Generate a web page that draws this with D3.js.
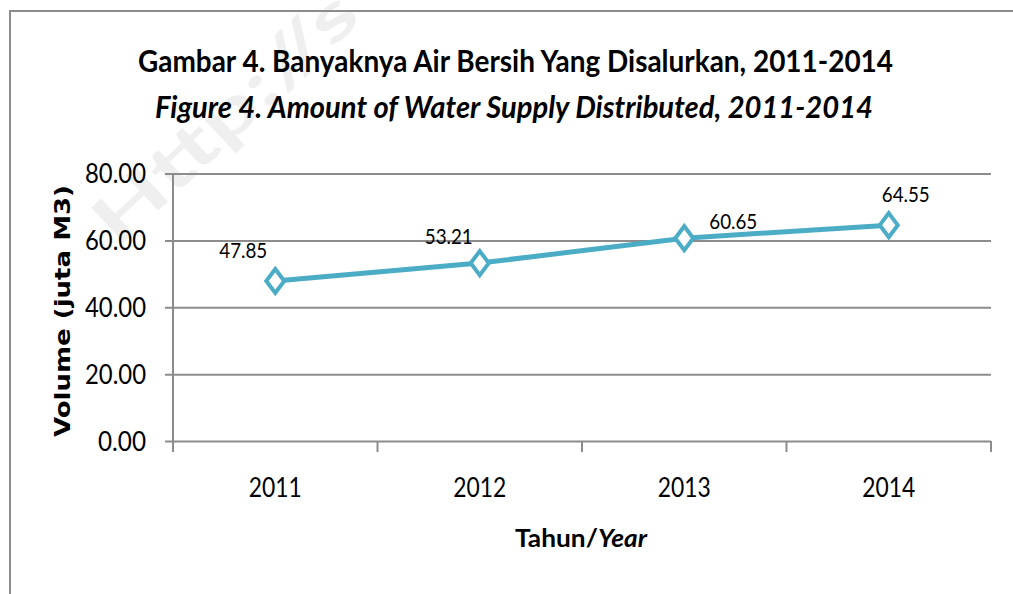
<!DOCTYPE html>
<html>
<head>
<meta charset="utf-8">
<script src="https://cdn.jsdelivr.net/npm/d3@7"></script>
<style>
  body { margin: 0; background: #fff; }
  text { font-family: Lato, "Open Sans", sans-serif; fill: #000; }
</style>
</head>
<body>
<div class="line-chart"></div>
<script>
// data
var years = ["2011", "2012", "2013", "2014"];
var volumes = [47.85, 53.21, 60.65, 64.55];
var yTicks = [0, 20, 40, 60, 80];

// label offsets relative to each point (layout, as placed in the source)
var labelOffsets = [[-32, -23], [-31, -19], [49, -9], [17, -23]];

var W = 1013, H = 594;
var plot = { left: 173, right: 991, top: 173.5, bottom: 441 };
var lineColor = "#4bacc6";

var svg = d3.select(".line-chart")
  .append("svg")
  .attr("width", W)
  .attr("height", H);

// faint watermark behind everything
svg.append("text")
  .attr("transform", "translate(118,248) rotate(-43)")
  .attr("font-size", 66)
  .attr("font-weight", "bold")
  .attr("textLength", 335)
  .attr("lengthAdjust", "spacingAndGlyphs")
  .style("fill", "#000")
  .style("opacity", 0.06)
  .text("Http://s");

// outer frame (top and left edges visible)
svg.append("path")
  .attr("d", "M10,594 L10,11 L1013,11")
  .attr("fill", "none")
  .attr("stroke", "#8c8c8c")
  .attr("stroke-width", 2);

var x = d3.scaleBand()
  .domain(years)
  .range([plot.left, plot.right]);

var y = d3.scaleLinear()
  .domain([0, 80])
  .range([plot.bottom, plot.top]);

// horizontal gridlines + y tick labels
var yAxis = svg.append("g")
  .attr("transform", "translate(" + plot.left + ",0)")
  .call(d3.axisLeft(y)
    .tickValues(yTicks)
    .tickSize(-(plot.right - plot.left))
    .tickPadding(27)
    .tickFormat(d3.format(".2f")));
yAxis.select(".domain").remove();
yAxis.selectAll(".tick line")
  .attr("x1", -8)
  .attr("stroke", "#8c8c8c")
  .attr("stroke-width", 2);
yAxis.selectAll(".tick text")
  .attr("font-size", 26)
  .attr("font-family", "Lato, sans-serif")
  .attr("textLength", function(d) { return d >= 10 ? 61 : 48; })
  .attr("lengthAdjust", "spacingAndGlyphs")
  .attr("dy", "0.36em");

// vertical axis line
svg.append("line")
  .attr("x1", plot.left).attr("x2", plot.left)
  .attr("y1", plot.top).attr("y2", plot.bottom + 11)
  .attr("stroke", "#8c8c8c")
  .attr("stroke-width", 2);

// category boundary ticks
var bounds = years.map(function(d) { return x(d); }).concat([plot.right]);
svg.selectAll(".xtick")
  .data(bounds)
  .enter().append("line")
    .attr("class", "xtick")
    .attr("x1", function(d) { return d; })
    .attr("x2", function(d) { return d; })
    .attr("y1", plot.bottom)
    .attr("y2", plot.bottom + 11)
    .attr("stroke", "#8c8c8c")
    .attr("stroke-width", 2);

// x tick labels
svg.selectAll(".xlabel")
  .data(years)
  .enter().append("text")
    .attr("class", "xlabel")
    .attr("x", function(d) { return x(d) + x.bandwidth() / 2; })
    .attr("y", 497)
    .attr("text-anchor", "middle")
    .attr("font-size", 26)
    .attr("textLength", 53)
    .attr("lengthAdjust", "spacingAndGlyphs")
    .text(function(d) { return d; });

// line
var line = d3.line()
  .x(function(d, i) { return x(years[i]) + x.bandwidth() / 2; })
  .y(function(d) { return y(d); });

svg.append("path")
  .datum(volumes)
  .attr("d", line)
  .attr("fill", "none")
  .attr("stroke", lineColor)
  .attr("stroke-width", 5)
  .attr("stroke-linejoin", "round");

// diamond markers
svg.selectAll(".marker")
  .data(volumes)
  .enter().append("path")
    .attr("class", "marker")
    .attr("transform", function(d, i) {
      return "translate(" + (x(years[i]) + x.bandwidth() / 2) + "," + y(d) + ")";
    })
    .attr("d", "M0,-12 L9,0 L0,12 L-9,0 Z")
    .attr("fill", "#fff")
    .attr("stroke", lineColor)
    .attr("stroke-width", 4)
    .attr("stroke-linejoin", "miter");

// data labels
var fmt = d3.format(".2f");
svg.selectAll(".dlabel")
  .data(volumes)
  .enter().append("text")
    .attr("class", "dlabel")
    .attr("x", function(d, i) { return x(years[i]) + x.bandwidth() / 2 + labelOffsets[i][0]; })
    .attr("y", function(d, i) { return y(d) + labelOffsets[i][1]; })
    .attr("text-anchor", "middle")
    .attr("font-size", 21)
    .attr("textLength", 48)
    .attr("lengthAdjust", "spacingAndGlyphs")
    .text(function(d) { return fmt(d); });

// titles
svg.append("text")
  .attr("x", 515.5).attr("y", 72)
  .attr("text-anchor", "middle")
  .attr("font-size", 31)
  .attr("font-weight", "bold")
  .attr("textLength", 755)
  .attr("lengthAdjust", "spacingAndGlyphs")
  .text("Gambar 4. Banyaknya Air Bersih Yang Disalurkan, 2011-2014");

svg.append("text")
  .attr("x", 514).attr("y", 118)
  .attr("text-anchor", "middle")
  .attr("font-size", 31)
  .attr("font-weight", "bold")
  .attr("font-style", "italic")
  .attr("textLength", 718)
  .attr("lengthAdjust", "spacingAndGlyphs")
  .text("Figure 4. Amount of Water Supply Distributed, 2011-2014");

// axis titles
var xTitle = svg.append("text")
  .attr("x", 581).attr("y", 547)
  .attr("text-anchor", "middle")
  .attr("font-size", 24)
  .attr("font-weight", "bold")
  .attr("textLength", 132)
  .attr("lengthAdjust", "spacingAndGlyphs");
xTitle.append("tspan").text("Tahun/");
xTitle.append("tspan").attr("font-style", "italic").text("Year");

svg.append("text")
  .attr("transform", "translate(70,311) rotate(-90)")
  .attr("text-anchor", "middle")
  .attr("font-size", 22)
  .attr("font-weight", "bold")
  .attr("textLength", 252)
  .attr("lengthAdjust", "spacingAndGlyphs")
  .style("font-family", "'DejaVu Sans', sans-serif")
  .text("Volume (juta M3)");
</script>
</body>
</html>
